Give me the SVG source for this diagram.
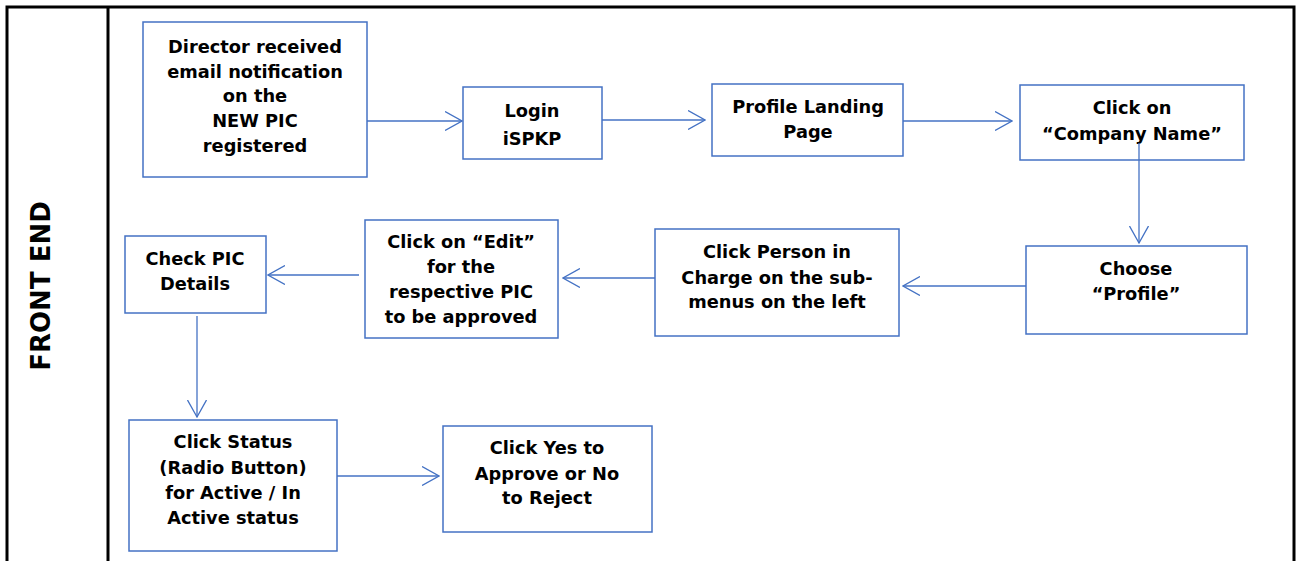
<svg xmlns="http://www.w3.org/2000/svg" width="1300" height="561" viewBox="0 0 1300 561">
<style>
.box{fill:#fff;stroke:#4472C4;stroke-width:1.5}
.t{font-family:"DejaVu Sans","Liberation Sans",sans-serif;font-weight:bold;font-size:17.8px;fill:#000;text-anchor:middle}
.c{fill:none;stroke:#4472C4;stroke-width:1.3}
.frame{fill:none;stroke:#000;stroke-width:3}
</style>
<defs>
<marker id="ah" viewBox="0 0 18 20" refX="17" refY="10" markerWidth="18" markerHeight="20" markerUnits="userSpaceOnUse" orient="auto">
<path d="M0,0.5 L17,10 L0,19.5" fill="none" stroke="#4472C4" stroke-width="1.3"/>
</marker>
</defs>
<rect width="1300" height="561" fill="#fff"/>
<g id="frame">
<path class="frame" d="M7,561 V7 H1294 V561 M108,7 V561"/>
<text transform="translate(50,286) rotate(-90)" style="font-family:'DejaVu Sans','Liberation Sans',sans-serif;font-weight:bold;font-size:26px;text-anchor:middle">FRONT END</text>
</g>
<g id="n1">
<rect class="box" x="143" y="22" width="224" height="155"/>
<text class="t" x="255" y="53">Director received</text>
<text class="t" x="255" y="78">email notification</text>
<text class="t" x="255" y="102">on the</text>
<text class="t" x="255" y="127">NEW PIC</text>
<text class="t" x="255" y="152">registered</text>
</g>
<g id="n2">
<rect class="box" x="463" y="87" width="139" height="72"/>
<text class="t" x="532" y="117">Login</text>
<text class="t" x="532" y="145">iSPKP</text>
</g>
<g id="n3">
<rect class="box" x="712" y="84" width="191" height="72"/>
<text class="t" x="808" y="113">Profile Landing</text>
<text class="t" x="808" y="138">Page</text>
</g>
<g id="n4">
<rect class="box" x="1020" y="85" width="224" height="75"/>
<text class="t" x="1132" y="114">Click on</text>
<text class="t" x="1132" y="140">“Company Name”</text>
</g>
<g id="n5">
<rect class="box" x="1026" y="246" width="221" height="88"/>
<text class="t" x="1136" y="275">Choose</text>
<text class="t" x="1136" y="300">“Profile”</text>
</g>
<g id="n6">
<rect class="box" x="655" y="229" width="244" height="107"/>
<text class="t" x="777" y="258">Click Person in</text>
<text class="t" x="777" y="284">Charge on the sub-</text>
<text class="t" x="777" y="308">menus on the left</text>
</g>
<g id="n7">
<rect class="box" x="365" y="220" width="193" height="118"/>
<text class="t" x="461" y="248">Click on “Edit”</text>
<text class="t" x="461" y="273">for the</text>
<text class="t" x="461" y="298">respective PIC</text>
<text class="t" x="461" y="323">to be approved</text>
</g>
<g id="n8">
<rect class="box" x="125" y="236" width="141" height="77"/>
<text class="t" x="195" y="265">Check PIC</text>
<text class="t" x="195" y="290">Details</text>
</g>
<g id="n9">
<rect class="box" x="129" y="420" width="208" height="131"/>
<text class="t" x="233" y="448">Click Status</text>
<text class="t" x="233" y="474">(Radio Button)</text>
<text class="t" x="233" y="499">for Active / In</text>
<text class="t" x="233" y="524">Active status</text>
</g>
<g id="n10">
<rect class="box" x="443" y="426" width="209" height="106"/>
<text class="t" x="547" y="454">Click Yes to</text>
<text class="t" x="547" y="480">Approve or No</text>
<text class="t" x="547" y="504">to Reject</text>
</g>
<g id="connectors">
<path class="c" marker-end="url(#ah)" d="M367,121 H462"/>
<path class="c" marker-end="url(#ah)" d="M602,120 H705"/>
<path class="c" marker-end="url(#ah)" d="M903,121 H1012"/>
<path class="c" marker-end="url(#ah)" d="M1139,143 V243"/>
<path class="c" marker-end="url(#ah)" d="M1026,286 H903"/>
<path class="c" marker-end="url(#ah)" d="M655,278 H563"/>
<path class="c" marker-end="url(#ah)" d="M359,275 H268"/>
<path class="c" marker-end="url(#ah)" d="M197,316 V417"/>
<path class="c" marker-end="url(#ah)" d="M337,476 H439"/>
</g>
</svg>
